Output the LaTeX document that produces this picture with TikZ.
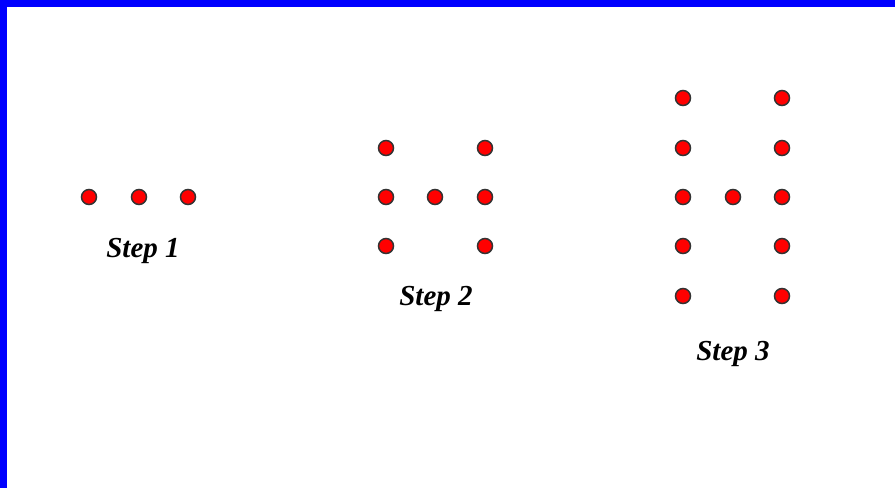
\documentclass[tikz,border=0pt]{standalone}
\usepackage{fontspec}
\setmainfont{Liberation Serif}
\begin{document}
\begin{tikzpicture}[x=1pt,y=-1pt,
  dot/.style={circle,draw=black!80,line width=1.5pt,fill=red,inner sep=0pt,minimum size=15pt},
  steplabel/.style={font=\fontsize{29}{32}\selectfont\bfseries\itshape,inner sep=0pt}]
\useasboundingbox (0,0) rectangle (895,488);
\fill[white] (0,0) rectangle (895,488);
\fill[blue] (0,0) rectangle (895,7);
\fill[blue] (0,0) rectangle (7,488);
% Step 1
\node[dot] (a1) at (89,197) {};
\node[dot] (a2) at (139,197) {};
\node[dot] (a3) at (188,197) {};
\node[steplabel] (l1) at (143,251) {Step 1};
% Step 2
\node[dot] (b1) at (386,148) {};
\node[dot] (b2) at (386,197) {};
\node[dot] (b3) at (386,246) {};
\node[dot] (b4) at (435,197) {};
\node[dot] (b5) at (485,148) {};
\node[dot] (b6) at (485,197) {};
\node[dot] (b7) at (485,246) {};
\node[steplabel] (l2) at (436,299) {Step 2};
% Step 3
\node[dot] (c1) at (683,98) {};
\node[dot] (c2) at (683,148) {};
\node[dot] (c3) at (683,197) {};
\node[dot] (c4) at (683,246) {};
\node[dot] (c5) at (683,296) {};
\node[dot] (c6) at (733,197) {};
\node[dot] (c7) at (782,98) {};
\node[dot] (c8) at (782,148) {};
\node[dot] (c9) at (782,197) {};
\node[dot] (c10) at (782,246) {};
\node[dot] (c11) at (782,296) {};
\node[steplabel] (l3) at (733,354) {Step 3};
\end{tikzpicture}
\end{document}
